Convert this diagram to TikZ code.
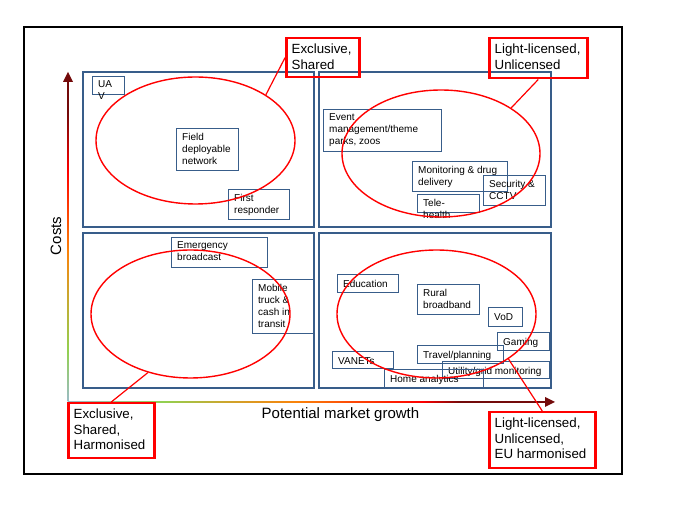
\documentclass[tikz,border=0pt]{standalone}
\usepackage{fontspec}
\setmainfont{Liberation Sans}
\usetikzlibrary{shapes.geometric}
\definecolor{qblue}{HTML}{385D8A}
\definecolor{axgrey}{RGB}{155,187,200}
\definecolor{axgreen}{RGB}{146,208,80}
\definecolor{axolive}{RGB}{205,165,45}
\definecolor{axorange}{RGB}{250,130,10}
\definecolor{axred}{RGB}{255,0,0}
\definecolor{axdark}{RGB}{115,10,10}
\pgfdeclareverticalshading{vaxis}{10bp}{color(0bp)=(axgrey); color(25bp)=(axgrey); color(33bp)=(axgreen); color(42bp)=(axolive); color(48.5bp)=(axorange); color(61bp)=(axred); color(70bp)=(axdark); color(100bp)=(axdark)}
\pgfdeclarehorizontalshading{haxis}{10bp}{color(0bp)=(axgrey); color(25bp)=(axgrey); color(35bp)=(axgreen); color(41.5bp)=(axolive); color(49bp)=(axorange); color(62bp)=(axred); color(66bp)=(axdark); color(100bp)=(axdark)}
\tikzset{
  quad/.style={draw=qblue, line width=2pt, inner sep=0pt, anchor=north west},
  sbox/.style={draw=qblue, line width=0.9pt, inner sep=0pt, anchor=north west},
  stext/.style={anchor=north west, inner xsep=6pt, inner ysep=4.6pt, align=left,
    font=\fontsize{10}{12}\selectfont, execute at begin node=\strut},
  rbox/.style={draw=red, line width=2.5pt, inner sep=0pt, anchor=north west},
  rtext/.style={anchor=north west, inner xsep=6.5pt, inner ysep=6.4pt, align=left,
    font=\fontsize{13.3}{15.8}\selectfont, execute at begin node=\strut},
  ell/.style={draw=red, line width=1.4pt, ellipse, inner sep=0pt},
  rline/.style={draw=red, line width=1.2pt},
  axlabel/.style={font=\fontsize{15}{18}\selectfont, inner sep=0pt}
}
\newcommand\mkbox[6]{%
  \node[sbox, minimum width=#4pt, minimum height=#5pt] (#1) at (#2,#3) {};
  \node[stext] (#1t) at (#1.north west) {#6};}
\newcommand\mkred[6]{%
  \node[rbox, minimum width=#4pt, minimum height=#5pt] (#1) at (#2,#3) {};
  \node[rtext] (#1t) at (#1.north west) {#6};}
\begin{document}
\begin{tikzpicture}[x=1pt,y=-1pt]
\useasboundingbox (0,0) rectangle (673,510);
\draw[line width=1.8pt] (24,27) rectangle (622,474);
% quadrants
\node[quad, minimum width=231pt, minimum height=155.5pt] (q1) at (82,71) {};
\node[quad, minimum width=232.5pt, minimum height=155.5pt] (q2) at (317.5,71) {};
\node[quad, minimum width=231pt, minimum height=155.5pt] (q3) at (82,232) {};
\node[quad, minimum width=232.5pt, minimum height=155.5pt] (q4) at (317.5,232) {};
% axes
\coordinate (org) at (68,402);
\coordinate (ytip) at (68,72);
\coordinate (xtip) at (555,402);
\shade[shading=vaxis] (66.4,402) rectangle (69.6,81);
\shade[shading=haxis] (68,400.4) rectangle (546,403.6);
\fill[axdark] (ytip) -- ++(-5,10) -- ++(10,0) -- cycle;
\fill[axdark] (xtip) -- ++(-10,-5) -- ++(0,10) -- cycle;
% small boxes
\mkbox{uav}{92}{76}{32}{18}{UA\\V}
\mkbox{field}{176}{128}{62}{42}{Field\\deployable\\network}
\mkbox{first}{228}{189}{61}{30}{First\\responder}
\mkbox{event}{323}{109}{118}{42}{Event\\management/theme\\parks, zoos}
\mkbox{monit}{412}{161}{95}{30}{Monitoring \& drug\\delivery}
\mkbox{secur}{483}{175}{62}{30}{Security \&\\CCTV}
\mkbox{tele}{417}{194}{62}{18}{Tele-\\health}
\mkbox{emerg}{171}{237}{96}{30}{Emergency\\broadcast}
\mkbox{mobile}{252}{279}{62}{54}{Mobile\\truck \&\\cash in\\transit}
\mkbox{educ}{337}{274}{61}{18}{Education}
\mkbox{rural}{417}{284}{62}{30}{Rural\\broadband}
\mkbox{vod}{488}{307}{34}{19}{VoD}
\mkbox{gaming}{497}{332}{52}{18}{Gaming}
\mkbox{travel}{417}{345}{86}{18}{Travel/planning}
\mkbox{vanets}{332}{351}{61}{17}{VANETs}
\mkbox{utility}{442}{361}{107}{17}{Utility/grid monitoring}
\mkbox{home}{384}{369}{99}{18}{Home analytics}
% ellipses
\node[ell, minimum width=199pt, minimum height=127pt] (e1) at (195.5,140.5) {};
\node[ell, minimum width=198pt, minimum height=127pt] (e2) at (441,153.5) {};
\node[ell, minimum width=199pt, minimum height=128pt] (e3) at (190.5,314) {};
\node[ell, minimum width=199pt, minimum height=128pt] (e4) at (436.5,314) {};
% red label boxes
\mkred{r1}{285}{37}{73}{39}{Exclusive,\\Shared}
\mkred{r2}{488}{37}{98}{40}{Light-licensed,\\Unlicensed}
\mkred{r3}{67}{402}{86}{55}{Exclusive,\\Shared,\\Harmonised}
\mkred{r4}{488}{411}{106}{56}{Light-licensed,\\Unlicensed,\\EU harmonised}
% connectors
\draw[rline] (r1.west) -- (e1.33);
\draw[rline] (r2.south) -- (e2.33);
\draw[rline] (e3.234) -- (r3.north);
\draw[rline] (e4.-32) -- (r4.north);
% axis labels
\node[axlabel, rotate=90] (costs) at (56,236) {Costs};
\node[axlabel, anchor=base] (growth) at (340.5,419) {Potential market growth};
\end{tikzpicture}
\end{document}
